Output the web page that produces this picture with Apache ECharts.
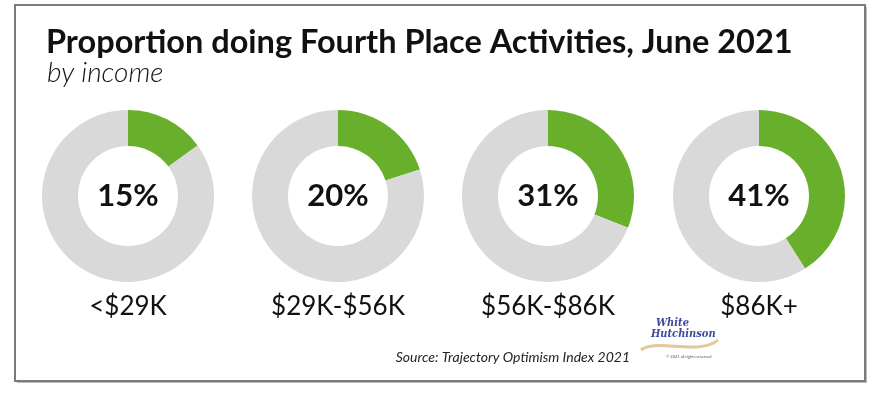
<!DOCTYPE html>
<html>
<head>
<meta charset="utf-8">
<script src="https://cdn.jsdelivr.net/npm/echarts@6/dist/echarts.min.js"></script>
<style>html,body{margin:0;padding:0;background:#fff}#c{width:880px;height:394px}</style>
</head>
<body>
<div id="c"></div>
<script>
var categories = ['<$29K', '$29K-$56K', '$56K-$86K', '$86K+'];
var values = [15, 20, 31, 41];
var titleText = 'Proportion doing Fourth Place Activities, June 2021';
var subtitleText = 'by income';
var sourceText = 'Source: Trajectory Optimism Index 2021';

var chart = echarts.init(document.getElementById('c'));
var centersX = [128, 338, 548, 759];
var cy = 196;
var series = values.map(function (v, i) {
  return {
    type: 'pie',
    center: [centersX[i], cy],
    radius: [50, 86],
    startAngle: 90,
    clockwise: true,
    silent: true,
    label: { show: false },
    labelLine: { show: false },
    data: [
      { value: v, itemStyle: { color: '#68b02c' } },
      { value: 100 - v, itemStyle: { color: '#d9d9d9' } }
    ]
  };
});

var graphics = [
  { type: 'rect', shape: { x: 17, y: 7, width: 850, height: 376 }, style: { fill: '#bbb' }, z: -2 },
  { type: 'rect', shape: { x: 15, y: 5, width: 850, height: 376 }, style: { fill: '#fff', stroke: '#7a7a7a', lineWidth: 2 }, z: -1 },
  { type: 'text', x: 46, y: 26, style: { text: titleText, font: 'bold 32.5px Lato', fill: '#111', verticalAlign: 'top' } },
  { type: 'text', x: 47, y: 59, style: { text: subtitleText, font: 'italic 300 28px Lato', fill: '#111', verticalAlign: 'top' } },
  { type: 'text', x: 630, y: 350, style: { text: sourceText, font: 'italic 14px Lato', fill: '#222', align: 'right', verticalAlign: 'top' } },
  { type: 'text', x: 656, y: 318, style: { text: 'White', font: 'italic bold 11px "DejaVu Serif Condensed", "DejaVu Serif"', fill: '#3b4a9c', verticalAlign: 'top' } },
  { type: 'text', x: 651, y: 329, style: { text: 'Hutchinson', font: 'italic bold 11px "DejaVu Serif Condensed", "DejaVu Serif"', fill: '#3b4a9c', verticalAlign: 'top' } },
  { type: 'bezierCurve', shape: { x1: 641, y1: 350, x2: 718, y2: 340, cpx1: 655, cpy1: 338, cpx2: 700, cpy2: 356 }, style: { stroke: '#e2c89a', lineWidth: 3, fill: null } },
  { type: 'text', x: 666, y: 355, style: { text: '© 2021 all rights reserved', font: '4px Lato', fill: '#555', verticalAlign: 'top' } }
];
values.forEach(function (v, i) {
  graphics.push({ type: 'text', x: centersX[i], y: cy, style: { text: v + '%', font: 'bold 31px Lato', fill: '#111', align: 'center', verticalAlign: 'middle' }, z: 10 });
  graphics.push({ type: 'text', x: centersX[i], y: 307, style: { text: categories[i], font: '26px Lato', fill: '#111', align: 'center', verticalAlign: 'middle' }, z: 10 });
});

chart.setOption({
  animation: false,
  series: series,
  graphic: graphics
});
</script>
</body>
</html>
